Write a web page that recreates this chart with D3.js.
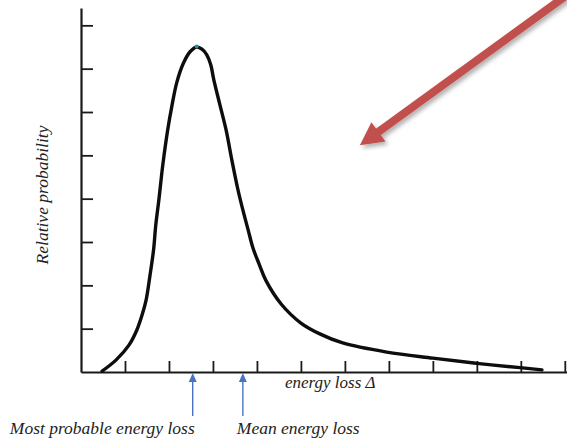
<!DOCTYPE html>
<html>
<head>
<meta charset="utf-8">
<script src="https://cdn.jsdelivr.net/npm/d3@7"></script>
<style>
  html, body { margin: 0; padding: 0; background: #fff; }
  svg { display: block; }
  text { font-family: "Liberation Serif", "Times New Roman", serif; font-style: italic; fill: #222; }
</style>
</head>
<body>
<script>
// curve, in tick units (one tick = one unit)
const energyLoss  = [0.48, 0.80, 1.09, 1.27, 1.39, 1.48, 1.57, 1.65, 1.70, 1.77, 1.86, 1.97, 2.07, 2.18, 2.33, 2.48, 2.63,
                     2.75, 2.86, 2.95, 3.02, 3.16, 3.30, 3.43, 3.57, 3.68, 3.80, 3.91, 4.05, 4.20, 4.55, 5.0, 5.43, 5.95,
                     6.95, 8.0, 9.0, 9.98, 10.48];
const probability = [0.02, 0.28, 0.62, 0.97, 1.32, 1.66, 2.24, 2.82, 3.39, 3.97, 4.78, 5.58, 6.16, 6.69, 7.13, 7.39, 7.50,
                     7.45, 7.32, 7.09, 6.74, 6.16, 5.58, 4.89, 4.20, 3.74, 3.28, 2.86, 2.49, 2.12, 1.57, 1.13, 0.88, 0.67,
                     0.46, 0.32, 0.20, 0.10, 0.05];

const xTicks = [1, 2, 3, 4, 5, 6, 7, 8, 9, 10, 11];
const yTicks = [1, 2, 3, 4, 5, 6, 7, 8];

const mostProbable = 2.54;
const meanLoss     = 3.68;

const labelMost = "Most probable energy loss";
const labelMean = "Mean energy loss";
const labelX    = "energy loss Δ";
const labelY    = "Relative probability";

const W = 567, H = 439;
const x = d3.scaleLinear().domain([0, 11.05]).range([81, 567]);
const y = d3.scaleLinear().domain([0, 8.4]).range([372, 8]);

const svg = d3.select("body").append("svg")
  .attr("width", W).attr("height", H)
  .attr("viewBox", [0, 0, W, H]);

const defs = svg.append("defs");
const shadow = defs.append("filter").attr("id", "shadow")
  .attr("x", "-20%").attr("y", "-20%").attr("width", "150%").attr("height", "150%");
shadow.append("feDropShadow")
  .attr("dx", 2.5).attr("dy", 3).attr("stdDeviation", 2.2)
  .attr("flood-color", "#000").attr("flood-opacity", 0.3);

// axes, ticks pointing into the plot
const xAxis = d3.axisTop(x).tickValues(xTicks).tickSize(11).tickFormat("").tickSizeOuter(0);
const yAxis = d3.axisRight(y).tickValues(yTicks).tickSize(12).tickFormat("").tickSizeOuter(0);

const gx = svg.append("g").attr("transform", `translate(0,${y(0)})`).call(xAxis);
const gy = svg.append("g").attr("transform", `translate(${x(0)},0)`).call(yAxis);
[gx, gy].forEach(g => {
  g.select(".domain").attr("stroke", "#1a1a1a").attr("stroke-width", 2.2);
  g.selectAll(".tick line").attr("stroke", "#1a1a1a").attr("stroke-width", 1.8);
});

// curve
const pts = energyLoss.map((d, i) => [d, probability[i]]);
const line = d3.line()
  .x(d => x(d[0])).y(d => y(d[1]))
  .curve(d3.curveCatmullRom.alpha(0.5));

svg.append("path")
  .datum(pts)
  .attr("d", line)
  .attr("fill", "none")
  .attr("stroke", "#0d0d0d")
  .attr("stroke-width", 3.4)
  .attr("stroke-linecap", "round")
  .attr("stroke-linejoin", "round");

const peak = pts[d3.maxIndex(pts, d => d[1])];
svg.append("circle")
  .attr("cx", x(peak[0])).attr("cy", y(peak[1]) - 0.5)
  .attr("r", 2).attr("fill", "#2a8c9e");

// axis titles
svg.append("text")
  .attr("x", 285).attr("y", 388)
  .attr("font-size", 17)
  .text(labelX);

svg.append("text")
  .attr("transform", "translate(48,195) rotate(-90)")
  .attr("text-anchor", "middle")
  .attr("font-size", 17.5)
  .text(labelY);

// blue markers under the axis
const blue = "#4a74c0";
[[mostProbable, labelMost, "end", 2], [meanLoss, labelMean, "start", -6]].forEach(([v, lab, anchor, dx]) => {
  const cx = x(v), top = y(0) + 1;
  svg.append("line")
    .attr("x1", cx).attr("x2", cx)
    .attr("y1", top + 6).attr("y2", 416)
    .attr("stroke", blue).attr("stroke-width", 1.4);
  svg.append("path")
    .attr("d", `M${cx},${top} L${cx - 4},${top + 9} L${cx + 4},${top + 9} Z`)
    .attr("fill", blue);
  svg.append("text")
    .attr("x", cx + dx).attr("y", 434)
    .attr("text-anchor", anchor)
    .attr("font-size", 17.5)
    .text(lab);
});

// red call-out arrow
const red = "#c0504d";
const from = [x(11.05), y(8.7)], to = [x(6.34), y(5.23)];
const ang = Math.atan2(to[1] - from[1], to[0] - from[0]);
const headLen = 23, headHalf = 12;
const bx = to[0] - headLen * Math.cos(ang), by = to[1] - headLen * Math.sin(ang);
const nx = -Math.sin(ang), ny = Math.cos(ang);

const ga = svg.append("g").attr("filter", "url(#shadow)");
ga.append("line")
  .attr("x1", from[0]).attr("y1", from[1])
  .attr("x2", bx + 2 * Math.cos(ang)).attr("y2", by + 2 * Math.sin(ang))
  .attr("stroke", red).attr("stroke-width", 8);
ga.append("path")
  .attr("d", `M${to[0]},${to[1]} L${bx + nx * headHalf},${by + ny * headHalf} L${bx - nx * headHalf},${by - ny * headHalf} Z`)
  .attr("fill", red);
</script>
</body>
</html>
